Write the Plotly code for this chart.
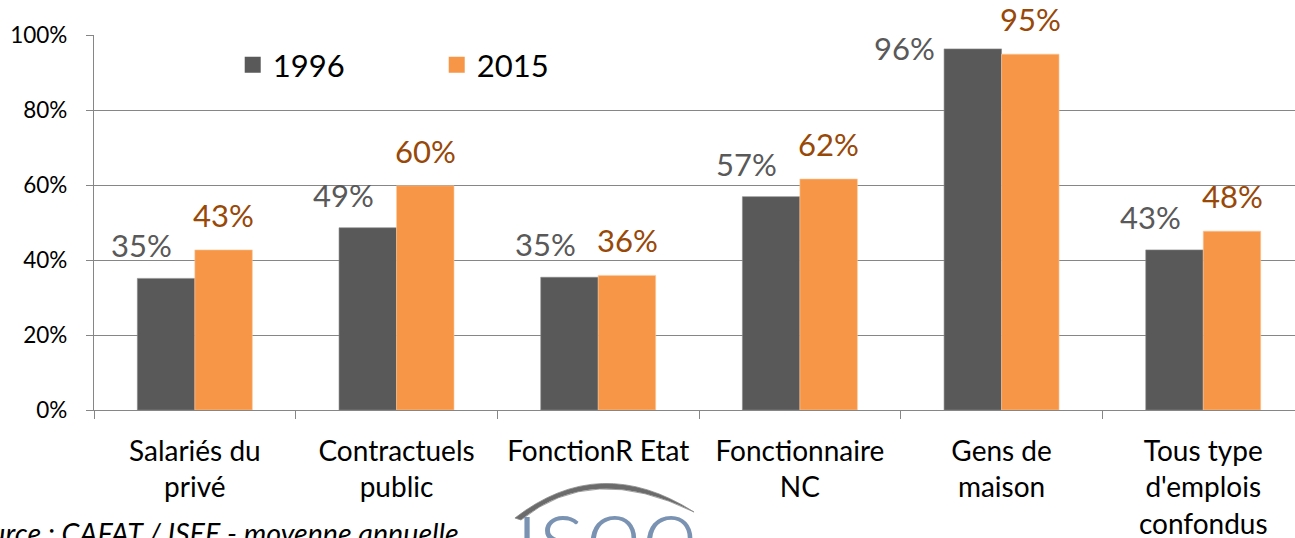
import plotly.graph_objects as go

categories = ["Salariés du<br>privé", "Contractuels<br>public", "FonctionR Etat",
              "Fonctionnaire<br>NC", "Gens de<br>maison", "Tous type<br>d'emplois<br>confondus"]
values_1996 = [0.351, 0.486, 0.354, 0.569, 0.963, 0.427]
values_2015 = [0.427, 0.598, 0.359, 0.616, 0.949, 0.477]
labels_1996 = ["35%", "49%", "35%", "57%", "96%", "43%"]
labels_2015 = ["43%", "60%", "36%", "62%", "95%", "48%"]
series_names = ["1996", "2015"]

# label placement offsets (px) relative to category centre / bar top
shift_x_1996 = [-53, -53, -53, -53, -97, -53]
shift_y_1996 = [12, 12, 12, 12, -20, 12]
shift_x_2015 = [29, 29, 29, 29, 29, 29]
shift_y_2015 = [14, 14, 14, 14, 14, 14]

C1996 = "#595959"
C2015 = "#F79646"
CLAB1996 = "#595959"
CLAB2015 = "#984807"
FONT = "Lato"

fig = go.Figure()
fig.add_trace(go.Bar(x=categories, y=values_1996, name=series_names[0],
                     marker=dict(color=C1996, line=dict(color="#8a8a8a", width=0.6)),
                     showlegend=False))
fig.add_trace(go.Bar(x=categories, y=values_2015, name=series_names[1],
                     marker=dict(color=C2015, line=dict(color="#fbc9a0", width=0.6)),
                     showlegend=False))
# legend entries
for nm, col in zip(series_names, [C1996, C2015]):
    fig.add_trace(go.Scatter(x=[None], y=[None], mode="markers", name=nm,
                             marker=dict(symbol="square", size=20, color=col)))

annots = []
for i, c in enumerate(categories):
    annots.append(dict(x=c, y=values_1996[i], xref="x", yref="y", text=labels_1996[i],
                       showarrow=False, xanchor="center", yanchor="bottom",
                       xshift=shift_x_1996[i], yshift=shift_y_1996[i],
                       font=dict(family=FONT, size=31, color=CLAB1996)))
    annots.append(dict(x=c, y=values_2015[i], xref="x", yref="y", text=labels_2015[i],
                       showarrow=False, xanchor="center", yanchor="bottom",
                       xshift=shift_x_2015[i], yshift=shift_y_2015[i],
                       font=dict(family=FONT, size=31, color=CLAB2015)))

# source note (cut at left edge as in the original)
annots.append(dict(x=0.3055, y=-0.327, xref="paper", yref="paper", xanchor="right",
                   yanchor="middle", showarrow=False,
                   text="<i>Source : CAFAT / ISEE - moyenne annuelle</i>",
                   font=dict(family=FONT, size=28.6, color="#000000")))
# logo text
annots.append(dict(x=0.349, y=-0.139, xref="paper", yref="paper", xanchor="left",
                   yanchor="top", showarrow=False, text="\u0131see",
                   font=dict(family=FONT, size=108, color="#7A93B3", weight=300)))

def px2paper(px, py):
    return (px - 94) / 1201, (410 - py) / 375

p1 = px2paper(515, 518); c1 = px2paper(600, 452); p2 = px2paper(694, 512)
c2 = px2paper(592, 462); p3 = px2paper(521, 520)
logo_path = (f"M {p1[0]:.4f} {p1[1]:.4f} Q {c1[0]:.4f} {c1[1]:.4f} {p2[0]:.4f} {p2[1]:.4f} "
             f"Q {c2[0]:.4f} {c2[1]:.4f} {p3[0]:.4f} {p3[1]:.4f} Z")

fig.update_layout(
    width=1295, height=538,
    margin=dict(l=94, r=0, t=35, b=128, autoexpand=False),
    paper_bgcolor="white", plot_bgcolor="white",
    barmode="group", bargap=0.43, bargroupgap=0,
    font=dict(family=FONT, color="#000000"),
    legend=dict(orientation="h", x=0.1155, y=0.92, xanchor="left", yanchor="middle",
                font=dict(family=FONT, size=31, color="#000000"),
                entrywidth=159, bgcolor="rgba(0,0,0,0)", itemclick=False),
    annotations=annots,
    shapes=[dict(type="path", xref="paper", yref="paper", path=logo_path,
                 fillcolor="#6b6b6b", line=dict(color="#8a8a8a", width=0.8), layer="above")],
)
fig.update_xaxes(range=[-0.5, 5.455], showline=True, linecolor="#868686", linewidth=1.3,
                 ticks="outside", tickson="boundaries", ticklen=8, tickcolor="#868686",
                 tickwidth=1.3, ticklabelstandoff=16, automargin=False,
                 tickfont=dict(family=FONT, size=28, color="#000000"), showgrid=False)
fig.update_yaxes(range=[0, 1], dtick=0.2, tickformat=".0%", showline=True,
                 linecolor="#868686", linewidth=1.3, showgrid=True, gridcolor="#868686",
                 gridwidth=1.3, ticks="outside", ticklen=7, tickcolor="#868686",
                 tickwidth=1.3, zeroline=False, automargin=False, ticklabelstandoff=14,
                 tickfont=dict(family=FONT, size=22.5, color="#000000"))

fig.write_html("out.html", config={"displayModeBar": False},
               post_script="document.body.style.margin='0px';")
